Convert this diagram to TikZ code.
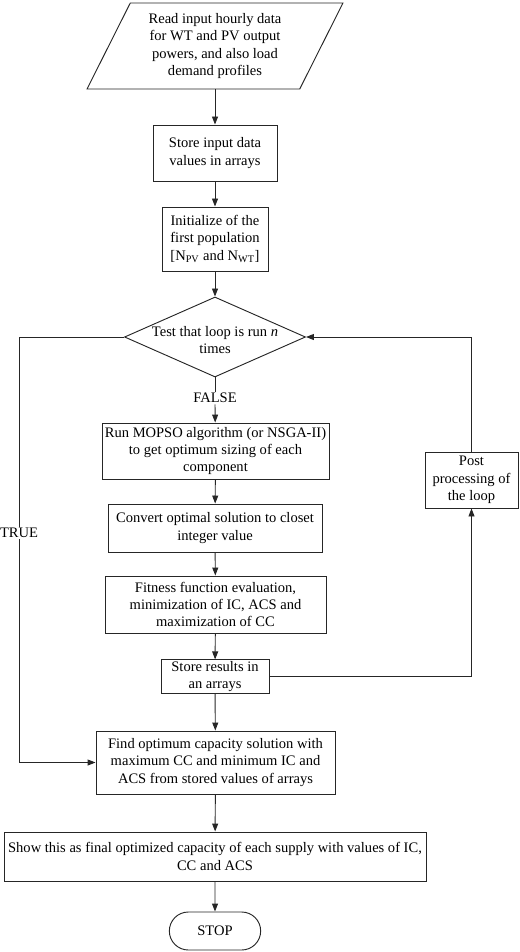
\documentclass[tikz,border=0pt]{standalone}
\usepackage{fontspec}
\setmainfont{Liberation Serif}
\usetikzlibrary{arrows.meta,shapes.geometric,shapes.misc}
\newcommand{\pxu}{0.75pt}
\newcommand{\boxfont}{\fontsize{10.9}{13}\selectfont}
\begin{document}
\begin{tikzpicture}[x=\pxu,y=-\pxu,
  box/.style={draw=black!85, line width=0.7pt, rectangle, align=center, inner sep=1pt, font=\boxfont},
  lbl/.style={align=center, inner sep=1pt, fill=white, font=\boxfont},
  arr/.style={-{Triangle[length=6pt,width=4.5pt]}, line width=0.7pt, draw=black!85},
  ln/.style={line width=0.7pt, draw=black!85}]
\path[use as bounding box] (0,0) rectangle (520,952);

\node[box, trapezium, trapezium left angle=63, trapezium right angle=117, trapezium stretches=true,
  minimum width=256*\pxu, minimum height=86*\pxu] (in) at (215,46)
  {Read input hourly data\\for WT and PV output\\powers, and also load\\demand profiles};
\node[box, minimum width=124*\pxu, minimum height=56*\pxu] (b1) at (215,153)
  {Store input data\\values in arrays};
\node[box, minimum width=106*\pxu, minimum height=64*\pxu] (b2) at (215,239)
  {Initialize of the\\first population\\{}[N\textsubscript{PV} and N\textsubscript{WT}]};
\node[diamond, draw=black!85, line width=0.7pt, inner sep=0pt, minimum width=181*\pxu, minimum height=80*\pxu,
  label={[align=center, font=\boxfont, yshift=-3*\pxu]center:Test that loop is run \textit{n}\\times}] (dia) at (215,337) {};
\node[lbl] (false) at (215,398) {FALSE};
\node[box, minimum width=227*\pxu, minimum height=56*\pxu] (mopso) at (215.5,451)
  {Run MOPSO algorithm (or NSGA-II)\\to get optimum sizing of each\\component};
\node[box, minimum width=214*\pxu, minimum height=48*\pxu] (conv) at (215,528)
  {Convert optimal solution to closet\\integer value};
\node[box, minimum width=221*\pxu, minimum height=57*\pxu] (fit) at (215.5,604.5)
  {Fitness function evaluation,\\minimization of IC, ACS and\\maximization of CC};
\node[box, minimum width=108*\pxu, minimum height=33*\pxu] (store) at (215,676.5)
  {Store results in\\an arrays};
\node[box, minimum width=93*\pxu, minimum height=56*\pxu] (post) at (471.5,480)
  {Post\\processing of\\the loop};
\node[box, minimum width=239*\pxu, minimum height=63*\pxu] (find) at (215.5,762.5)
  {Find optimum capacity solution with\\maximum CC and minimum IC and\\ACS from stored values of arrays};
\node[box, minimum width=422*\pxu, minimum height=49*\pxu] (show) at (215,856.5)
  {Show this as final optimized capacity of each supply with values of IC,\\CC and ACS};
\node[box, rounded rectangle, minimum width=94*\pxu, minimum height=38*\pxu] (stop) at (215,931) {STOP};
\node[lbl] (true) at (19,533) {TRUE};

\draw[arr] (b1.north |- in.bottom side) -- (b1.north);
\draw[arr] (b1) -- (b2);
\draw[arr] (b2) -- (dia);
\draw[ln] (dia.south) -- (false.north);
\draw[arr] (false.south) -- (mopso);
\draw[arr] (mopso) -- (conv);
\draw[arr] (conv) -- (fit);
\draw[arr] (fit) -- (store);
\draw[arr] (store) -- (find);
\draw[arr] (find) -- (show);
\draw[arr] (show) -- (stop);
\draw[arr] (store.east) -| (post.south);
\draw[arr] (post.north) |- (dia.east);
\draw[ln] (dia.west) -| (true.north);
\draw[arr] (true.south) |- (find.west);
\end{tikzpicture}
\end{document}
